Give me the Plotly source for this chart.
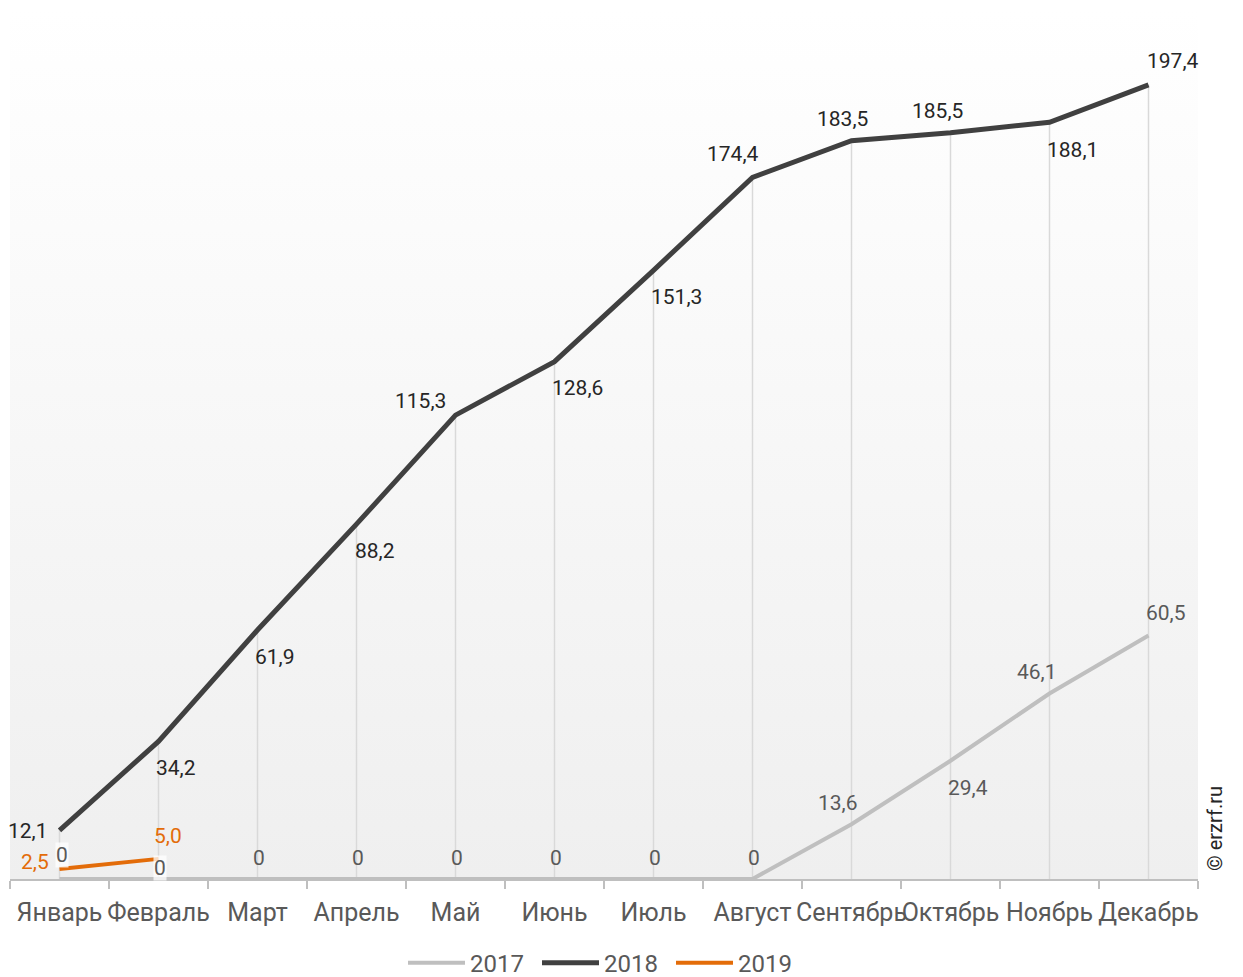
import plotly.graph_objects as go

months = ["Январь", "Февраль", "Март", "Апрель", "Май", "Июнь",
          "Июль", "Август", "Сентябрь", "Октябрь", "Ноябрь", "Декабрь"]
v2017 = [0, 0, 0, 0, 0, 0, 0, 0, 13.6, 29.4, 46.1, 60.5]
v2018 = [12.1, 34.2, 61.9, 88.2, 115.3, 128.6, 151.3, 174.4, 183.5, 185.5, 188.1, 197.4]
v2019 = [2.5, 5.0]

# label offsets (px) from each point: (xshift, yshift)
off2017 = [(2, 24), (1, 11), (1, 21), (1, 21), (1, 21), (1, 21),
           (1, 21), (1, 21), (-14, 21), (17, -27), (-13, 22), (17, 23)]
off2018 = [(-32, -1), (17, -27), (17, -27), (18, -27), (-35, 14), (23, -26),
           (23, -27), (-20, 23), (-9, 22), (-13, 22), (23, -28), (24, 24)]
off2019 = [(-25, 7), (9, 23)]


def fmt(v):
    return "0" if v == 0 else f"{v:.1f}".replace(".", ",")


FONT = "Roboto"

# vertical drop lines from the top point of each month
drop_x, drop_y = [], []
for i, m in enumerate(months):
    vals = [v2017[i], v2018[i]] + ([v2019[i]] if i < len(v2019) else [])
    drop_x += [m, m, None]
    drop_y += [0, max(vals), None]

fig = go.Figure()
fig.add_trace(go.Scatter(x=drop_x, y=drop_y, mode="lines", showlegend=False,
                         line=dict(color="#d9d9d9", width=1.5), hoverinfo="skip"))
fig.add_trace(go.Scatter(x=months, y=v2017, name="2017", mode="lines", legendrank=1,
                         line=dict(color="#bfbfbf", width=4)))
fig.add_trace(go.Scatter(x=months[:len(v2019)], y=v2019, name="2019", mode="lines", legendrank=3,
                         line=dict(color="#e36c09", width=4)))
fig.add_trace(go.Scatter(x=months, y=v2018, name="2018", mode="lines", legendrank=2,
                         line=dict(color="#404040", width=5)))

annotations = []
for vals, offs, color in [(v2017, off2017, "#595959"),
                          (v2019, off2019, "#e36c09"),
                          (v2018, off2018, "#262626")]:
    for i, v in enumerate(vals):
        dx, dy = offs[i]
        bg = "rgba(255,255,255,0.75)" if (vals is v2017 and i < 2) else None
        annotations.append(dict(x=months[i], y=v, text=fmt(v), showarrow=False,
                                xshift=dx, yshift=dy, xanchor="center", yanchor="middle",
                                bgcolor=bg, borderpad=0,
                                font=dict(family=FONT, size=21, color=color)))

annotations.append(dict(text="© erzrf.ru", xref="paper", yref="paper", x=1.0143, y=0.0587,
                        textangle=-90, showarrow=False, xanchor="center", yanchor="middle",
                        font=dict(family=FONT, size=20, color="#262626")))

# soft vertical gradient behind the plot area
grad_svg = ("data:image/svg+xml;utf8,<svg xmlns='http://www.w3.org/2000/svg' width='100' height='100' "
            "preserveAspectRatio='none'><defs><linearGradient id='g' x1='0' y1='0' x2='0' y2='1'>"
            "<stop offset='0' stop-color='%23ffffff'/><stop offset='1' stop-color='%23efefef'/>"
            "</linearGradient></defs><rect width='100' height='100' fill='url(%23g)'/></svg>")

# page body has an 8px default margin, so the figure is offset by 8px
fig.update_layout(
    width=1243, height=977,
    margin=dict(l=2, r=53, t=2, b=106, autoexpand=False),
    paper_bgcolor="white", plot_bgcolor="rgba(0,0,0,0)",
    font=dict(family=FONT, color="#595959"),
    hovermode=False,
    showlegend=True,
    legend=dict(orientation="h", x=0.5, xanchor="center", y=-0.0967, yanchor="middle",
                font=dict(size=24, color="#595959"), itemwidth=57, entrywidth=62,
                traceorder="normal"),
    images=[dict(source=grad_svg, xref="paper", yref="paper", x=0, y=1, sizex=1, sizey=1,
                 xanchor="left", yanchor="top", sizing="stretch", layer="below")],
    annotations=annotations,
)
fig.update_xaxes(type="category", range=[-0.5, 11.5], showgrid=False, automargin=False,
                 showline=True, linecolor="#bfbfbf", linewidth=2,
                 ticks="outside", tickson="boundaries", ticklen=8, tickcolor="#bfbfbf", tickwidth=2,
                 ticklabelstandoff=10,
                 tickangle=0, tickfont=dict(size=25, color="#595959"), fixedrange=True)
fig.update_yaxes(range=[0, 216], showgrid=False, showticklabels=False, zeroline=False,
                 showline=False, fixedrange=True, automargin=False)

fig.write_html("out.html")
